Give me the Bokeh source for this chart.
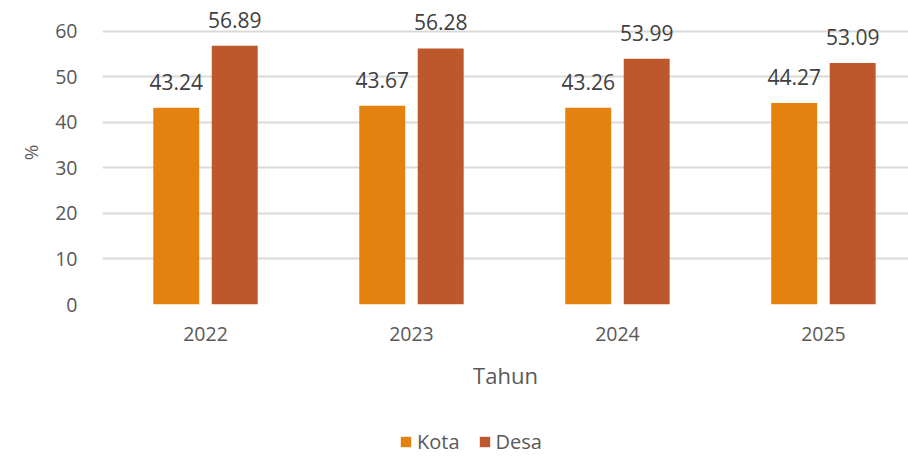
from bokeh.plotting import figure
from bokeh.layouts import column
from bokeh.models import Range1d, FixedTicker, ColumnDataSource, LabelSet, Legend, LegendItem
from bokeh.core.properties import value
from bokeh.embed import file_html
from bokeh.resources import INLINE

years = ["2022", "2023", "2024", "2025"]
kota = [43.24, 43.67, 43.26, 44.27]
desa = [56.89, 56.28, 53.99, 53.09]
y_ticks = [0, 10, 20, 30, 40, 50, 60]

FONT = "Open Sans"
C_KOTA = "#E5820F"
C_DESA = "#BD582C"
TXT = "#595959"

xc = [i + 0.5 for i in range(len(years))]
off = 0.142
w = 0.223

src_k = ColumnDataSource(dict(x=[v - off for v in xc], top=kota, lab=[f"{v:.2f}" for v in kota]))
src_d = ColumnDataSource(dict(x=[v + off for v in xc], top=desa, lab=[f"{v:.2f}" for v in desa]))

p = figure(width=908, height=400, output_backend="svg", toolbar_location=None,
           x_range=Range1d(0, 3.913), y_range=Range1d(0, 66.81),
           min_border_left=102, min_border_right=0, min_border_top=0, min_border_bottom=96)
p.outline_line_color = None
p.background_fill_color = "white"
p.border_fill_color = "white"

rk = p.vbar(x="x", top="top", width=w, bottom=0, source=src_k, fill_color=C_KOTA, line_color=None)
rd = p.vbar(x="x", top="top", width=w, bottom=0, source=src_d, fill_color=C_DESA, line_color=None)

for src in (src_k, src_d):
    p.add_layout(LabelSet(x="x", y="top", text="lab", source=src, text_align="center",
                          text_baseline="alphabetic", y_offset=18, text_font=value(FONT),
                          text_font_size="21px", text_color="#404040"))

p.xgrid.visible = False
p.ygrid.ticker = FixedTicker(ticks=y_ticks)
p.ygrid.grid_line_color = "#D9D9D9"
p.ygrid.grid_line_width = 2

p.yaxis.ticker = FixedTicker(ticks=y_ticks)
p.yaxis.axis_line_color = None
p.yaxis.major_tick_line_color = None
p.yaxis.minor_tick_line_color = None
p.yaxis.major_label_standoff = 19
p.yaxis.major_label_text_font = FONT
p.yaxis.major_label_text_font_size = "19.5px"
p.yaxis.major_label_text_color = TXT
p.yaxis.axis_label = "%"
p.yaxis.axis_label_text_font = FONT
p.yaxis.axis_label_text_font_size = "19px"
p.yaxis.axis_label_text_font_style = "normal"
p.yaxis.axis_label_text_color = TXT
p.yaxis.axis_label_standoff = 8

p.xaxis.ticker = FixedTicker(ticks=xc)
p.xaxis.major_label_overrides = {v: y for v, y in zip(xc, years)}
p.xaxis.axis_line_color = None
p.xaxis.major_tick_line_color = None
p.xaxis.minor_tick_line_color = None
p.xaxis.major_label_standoff = 16
p.xaxis.major_label_text_font = FONT
p.xaxis.major_label_text_font_size = "19.5px"
p.xaxis.major_label_text_color = TXT
p.xaxis.axis_label = "Tahun"
p.xaxis.axis_label_text_font = FONT
p.xaxis.axis_label_text_font_size = "22px"
p.xaxis.axis_label_text_font_style = "normal"
p.xaxis.axis_label_text_color = TXT
p.xaxis.axis_label_standoff = 16

# legend strip (proxy renderers lie below its visible range)
q = figure(width=908, height=56, output_backend="svg", toolbar_location=None,
           x_range=Range1d(0, 3.913), y_range=Range1d(200, 300),
           min_border_left=0, min_border_right=0, min_border_top=0, min_border_bottom=0)
q.axis.visible = False
q.grid.visible = False
q.outline_line_color = None
qk = q.vbar(x="x", top="top", width=w, bottom=0, source=src_k, fill_color=C_KOTA, line_color=None)
qd = q.vbar(x="x", top="top", width=w, bottom=0, source=src_d, fill_color=C_DESA, line_color=None)

legend = Legend(items=[LegendItem(label="Kota", renderers=[qk]), LegendItem(label="Desa", renderers=[qd])],
                orientation="horizontal", location=(297, 1), border_line_color=None,
                background_fill_alpha=0,
                label_text_font=FONT, label_text_font_size="20px", label_text_color=TXT,
                glyph_width=13, glyph_height=13, label_standoff=5, spacing=18,
                padding=0, margin=0)
q.add_layout(legend, "center")

layout = column(p, q, spacing=0)
open("out.html", "w").write(file_html(layout, INLINE))
